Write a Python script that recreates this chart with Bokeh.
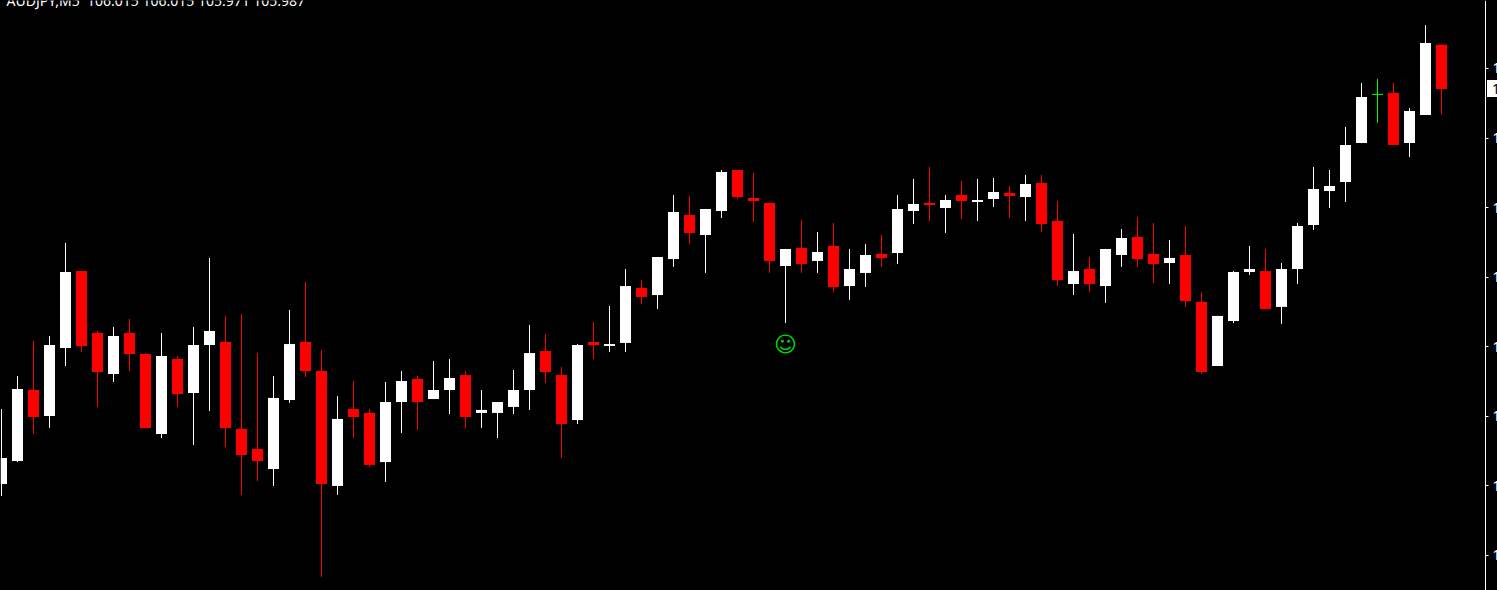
from bokeh.plotting import figure
from bokeh.models import Label, FixedTicker, NumeralTickFormatter
from bokeh.core.properties import value
from bokeh.embed import file_html
from bokeh.resources import INLINE

symbol = "AUDJPY,M5"
opens = [105.7370,105.7516,105.7965,105.7801,105.8231,105.8718,105.8326,105.8066,105.8326,105.8193,
         105.7687,105.8161,105.7946,105.8250,105.8269,105.7718,105.7592,105.7465,105.7902,105.8269,
         105.8085,105.7358,105.7845,105.7820,105.7509,105.7889,105.8035,105.7908,105.7965,105.8060,
         105.7820,105.7820,105.7858,105.7965,105.8212,105.8060,105.7775,105.8269,105.8244,105.8263,
         105.8611,105.8566,105.8794,105.9073,105.8946,105.9098,105.9358,105.9180,105.9149,105.8750,
         105.8864,105.8782,105.8877,105.8623,105.8706,105.8826,105.8832,105.9098,105.9149,105.9117,
         105.9199,105.9155,105.9174,105.9212,105.9187,105.9275,105.9035,105.8636,105.8731,105.8623,
         105.8820,105.8934,105.8826,105.8769,105.8820,105.8522,105.8117,105.8402,105.8712,105.8718,
         105.8491,105.8731,105.9009,105.9225,105.9282,105.9528,105.9836,105.9845,105.9528,105.9706,
         106.015]
highs = [105.7845,105.8054,105.8275,105.8307,105.8896,105.8718,105.8339,105.8364,105.8415,105.8199,
         105.8326,105.8180,105.8364,105.8801,105.8434,105.8446,105.8199,105.8054,105.8472,105.8649,
         105.8218,105.7927,105.8022,105.7845,105.8016,105.8085,105.8054,105.8149,105.8161,105.8085,
         105.7965,105.7889,105.8092,105.8377,105.8320,105.8111,105.8256,105.8396,105.8497,105.8731,
         105.8661,105.8807,105.9199,105.9193,105.9111,105.9358,105.9358,105.9339,105.9149,105.8858,
         105.9041,105.8965,105.9022,105.8858,105.8889,105.8946,105.9199,105.9301,105.9377,105.9199,
         105.9288,105.9301,105.9307,105.9256,105.9326,105.9326,105.9161,105.8953,105.8807,105.8858,
         105.8984,105.9060,105.9022,105.8915,105.9003,105.8585,105.8434,105.8718,105.8877,105.8858,
         105.8769,105.9022,105.9377,105.9358,105.9630,105.9908,105.9934,105.9908,105.9750,106.0275,
         106.015]
lows = [105.7294,105.7509,105.7687,105.7725,105.8117,105.8206,105.7858,105.8016,105.8085,105.7725,
        105.7661,105.7858,105.7617,105.7832,105.7604,105.7301,105.7389,105.7358,105.7883,105.8047,
        105.6782,105.7301,105.7661,105.7478,105.7383,105.7693,105.7712,105.7908,105.7813,105.7725,
        105.7725,105.7661,105.7813,105.7839,105.8009,105.7535,105.7750,105.8161,105.8206,105.8206,
        105.8509,105.8478,105.8744,105.8889,105.8706,105.9054,105.9174,105.9028,105.8706,105.8389,
        105.8706,105.8706,105.8585,105.8535,105.8617,105.8744,105.8763,105.9016,105.9035,105.8959,
        105.9047,105.9035,105.9123,105.9054,105.9035,105.8965,105.8623,105.8566,105.8585,105.8516,
        105.8744,105.8744,105.8642,105.8636,105.8491,105.8066,105.8117,105.8389,105.8693,105.8478,
        105.8383,105.8636,105.8978,105.9117,105.9155,105.9528,105.9655,105.9516,105.9440,105.9706,
        105.971]
closes = [105.7535,105.7972,105.7794,105.8250,105.8712,105.8244,105.8079,105.8307,105.8193,105.7725,
          105.8180,105.7940,105.8250,105.8339,105.7725,105.7554,105.7516,105.7915,105.8256,105.8085,
          105.7370,105.7782,105.7794,105.7491,105.7889,105.8022,105.7889,105.7965,105.8041,105.7794,
          105.7839,105.7889,105.7965,105.8199,105.8079,105.7750,105.8250,105.8250,105.8256,105.8623,
          105.8554,105.8807,105.9092,105.8959,105.9111,105.9345,105.9187,105.9161,105.8782,105.8858,
          105.8763,105.8839,105.8617,105.8731,105.8820,105.8801,105.9111,105.9142,105.9136,105.9168,
          105.9161,105.9168,105.9218,105.9193,105.9269,105.9016,105.8661,105.8718,105.8636,105.8858,
          105.8927,105.8794,105.8763,105.8801,105.8528,105.8079,105.8434,105.8712,105.8731,105.8478,
          105.8731,105.9003,105.9237,105.9256,105.9516,105.9820,105.9836,105.9516,105.9731,106.0161,
          105.987]
ticks = [106.000, 105.956, 105.912, 105.868, 105.824, 105.780, 105.736, 105.692]
signal_index = 49
signal_price = 105.8256
signal_mark = "\u263A"

WHITE, RED, GREEN = "#ffffff", "#ff0000", "#00ff00"
idx = list(range(len(closes)))
colors = [GREEN if abs(o - c) < 1e-9 else (WHITE if c > o else RED) for o, c in zip(opens, closes)]

# one bar slot is 16px wide; the price scale runs at 1580px per unit
X0, X1 = -0.0625, 93.5
p = figure(frame_width=1497, frame_height=590, output_backend="svg", toolbar_location=None,
           x_range=(X0, X1), y_range=(105.66962, 106.04303),
           x_axis_location=None, y_axis_location="right",
           background_fill_color="#000000", border_fill_color="#000000",
           min_border_left=0, min_border_top=0, min_border_bottom=0, min_border_right=0,
           outline_line_color=None,
           styles={"position": "fixed", "left": "0px", "top": "0px", "background-color": "#000000"})
p.grid.visible = False
ax = p.yaxis[0]
ax.fixed_location = 92.75
ax.ticker = FixedTicker(ticks=ticks)
ax.formatter = NumeralTickFormatter(format="0.000")
ax.axis_line_color = WHITE
ax.major_tick_line_color = WHITE
ax.minor_tick_line_color = None
ax.major_tick_in = 0
ax.major_tick_out = 3
ax.major_label_standoff = 4
ax.major_label_text_color = WHITE
ax.major_label_text_font = "Noto Sans"
ax.major_label_text_font_size = "14px"

p.segment(idx, lows, idx, highs, line_color=colors, line_width=1)
p.vbar(x=idx, width=11 / 16, top=opens, bottom=closes, fill_color=colors, line_color=None)
doji = [i for i in idx if opens[i] == closes[i]]
p.segment([i - 5.5 / 16 for i in doji], [closes[i] for i in doji],
          [i + 5.5 / 16 for i in doji], [closes[i] for i in doji],
          line_color=[colors[i] for i in doji], line_width=1)

p.text([signal_index], [signal_price], text=[signal_mark], text_color="#00d800",
       text_font=value("DejaVu Sans"), text_font_size="22px",
       text_align="center", text_baseline="middle")

header = "%s\u00a0\u00a0%.3f %.3f %.3f %.3f" % (symbol, opens[-1], highs[-1], lows[-1], closes[-1])
p.add_layout(Label(x=6, y=581, x_units="screen", y_units="screen", text=header,
                   text_color=WHITE, text_font="Noto Sans", text_font_size="14px",
                   text_baseline="bottom"))
# current-price box on the scale
p.quad(left=[92.84375], right=[X1], top=[closes[-1] + 9 / 1580], bottom=[closes[-1] - 8 / 1580],
       fill_color=WHITE, line_color=None)
p.text([93.15], [closes[-1]], text=["%.3f" % closes[-1]], text_color="#000000",
       text_font=value("Noto Sans"), text_font_size="14px", text_baseline="middle")

open("out.html", "w").write(file_html(p, INLINE))
